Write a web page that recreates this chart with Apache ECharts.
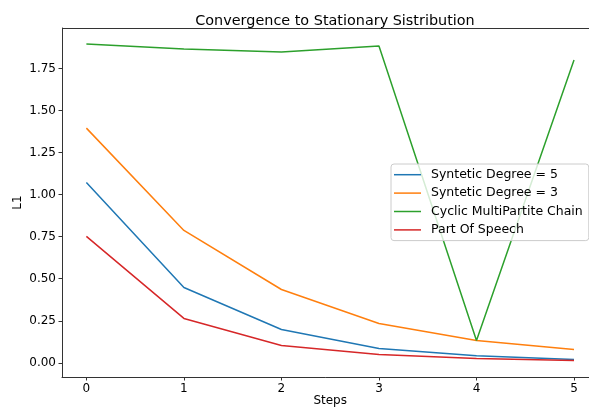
<!DOCTYPE html>
<html>
<head>
<meta charset="utf-8">
<script src="https://cdn.jsdelivr.net/npm/echarts@6/dist/echarts.min.js"></script>
<style>
html, body { margin: 0; padding: 0; background: #fff; }
#chart { width: 589px; height: 411px; }
</style>
</head>
<body>
<div id="chart"></div>
<script>
var steps = [0, 1, 2, 3, 4, 5];
var yTicks = [0, 0.25, 0.5, 0.75, 1.0, 1.25, 1.5, 1.75];
var seriesNames = ['Syntetic Degree = 5', 'Syntetic Degree = 3', 'Cyclic MultiPartite Chain', 'Part Of Speech'];
var degree5 = [1.072, 0.448, 0.198, 0.085, 0.043, 0.020];
var degree3 = [1.395, 0.787, 0.436, 0.234, 0.133, 0.079];
var cyclic = [1.895, 1.865, 1.847, 1.883, 0.133, 1.800];
var partOfSpeech = [0.752, 0.264, 0.103, 0.049, 0.026, 0.014];
var colors = ['#1f77b4', '#ff7f0e', '#2ca02c', '#d62728'];

function pairs(vals) {
	var out = [];
	for (var i = 0; i < vals.length; i++) {
		out.push([steps[i], vals[i]]);
	}
	return out;
}

var font = 'DejaVu Sans';
var allData = [degree5, degree3, cyclic, partOfSpeech];
var series = [];
for (var k = 0; k < allData.length; k++) {
	series.push({
		name: seriesNames[k],
		type: 'line',
		data: pairs(allData[k]),
		showSymbol: false,
		symbol: 'none',
		lineStyle: { width: 1.5, color: colors[k] },
		itemStyle: { color: colors[k] },
		animation: false
	});
}

var chart = echarts.init(document.getElementById('chart'));
chart.setOption({
	animation: false,
	title: {
		text: 'Convergence to Stationary Sistribution',
		left: 330,
		textAlign: 'center',
		top: 9,
		textStyle: { fontFamily: font, fontSize: 14.4, fontWeight: 'normal', color: '#000' }
	},
	legend: {
		orient: 'vertical',
		left: 391,
		top: 164,
		data: seriesNames,
		icon: 'rect',
		itemWidth: 27,
		itemHeight: 1.5,
		itemGap: 0,
		padding: [1.5, 6, 1.5, 3],
		backgroundColor: 'rgba(255,255,255,0.8)',
		borderColor: '#cccccc',
		borderWidth: 1,
		borderRadius: 3,
		textStyle: { fontFamily: font, fontSize: 12.5, color: '#000', lineHeight: 18.4, padding: [0, 0, 0, 5] }
	},
	grid: { left: 62, top: 28, width: 536.4, height: 349, containLabel: false, outerBoundsMode: 'none' },
	xAxis: {
		type: 'value',
		min: -0.25,
		max: 5.25,
		name: 'Steps',
		nameLocation: 'middle',
		nameGap: 18,
		nameMoveOverlap: false,
		nameTextStyle: { fontFamily: font, fontSize: 12, color: '#000' },
		axisLine: { show: true, onZero: false, lineStyle: { color: '#333', width: 1 } },
		axisTick: { show: true, length: 3.5, lineStyle: { color: '#333' }, customValues: steps },
		axisLabel: { fontFamily: font, fontSize: 12, color: '#000', margin: 6, customValues: steps },
		splitLine: { show: false }
	},
	yAxis: {
		type: 'value',
		min: -0.084,
		max: 1.99,
		name: 'L1',
		nameLocation: 'middle',
		nameGap: 38,
		nameMoveOverlap: false,
		nameTextStyle: { fontFamily: font, fontSize: 12, color: '#000' },
		axisLine: { show: true, onZero: false, lineStyle: { color: '#333', width: 1 } },
		axisTick: { show: true, length: 3.5, lineStyle: { color: '#333' }, customValues: yTicks },
		axisLabel: {
			fontFamily: font, fontSize: 12, color: '#000', margin: 6,
			customValues: yTicks,
			formatter: function (v) { return v.toFixed(2); }
		},
		splitLine: { show: false }
	},
	graphic: [{
		type: 'line',
		shape: { x1: 62, y1: 28.5, x2: 589, y2: 28.5 },
		style: { stroke: '#333', lineWidth: 1 },
		silent: true
	}],
	series: series
});
</script>
</body>
</html>
